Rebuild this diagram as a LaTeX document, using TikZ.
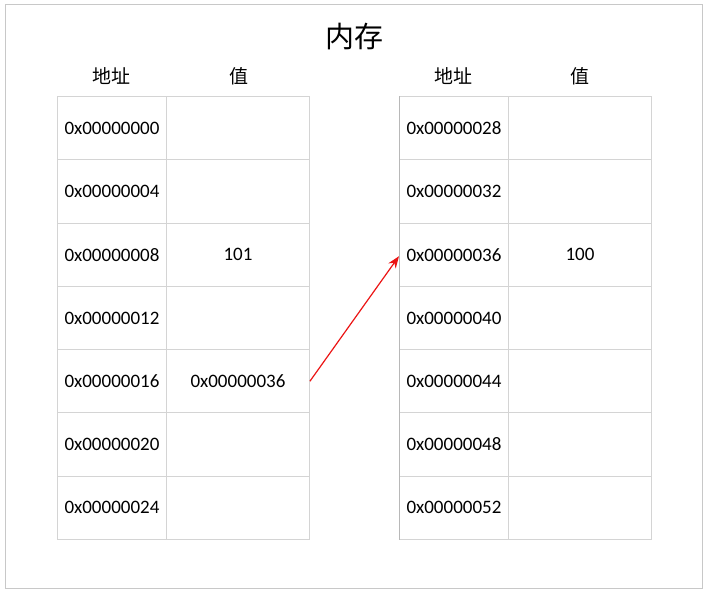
\documentclass[tikz,border=0pt]{standalone}
\usepackage{fontspec}
\setmainfont{Carlito}
\newfontfamily\cjk{Noto Sans CJK SC}
\usetikzlibrary{arrows.meta}
\definecolor{gridgray}{RGB}{212,212,212}
\definecolor{framegray}{RGB}{200,200,200}
\definecolor{arrowred}{RGB}{235,20,20}
\begin{document}
\begin{tikzpicture}[x=1pt,y=-1pt,
  cell/.style={draw=gridgray, line width=0.9pt, minimum height=63.29pt, inner sep=0pt,
    anchor=north west, font=\fontsize{19}{22}\selectfont, text=black},
  addr/.style={cell, minimum width=109pt},
  val/.style={cell, minimum width=143pt},
  head/.style={font=\cjk\fontsize{19}{22}\selectfont, text=black},
  ptr/.style={draw=arrowred, line width=1.2pt, -{Stealth[length=12pt,width=9pt]}}]
\useasboundingbox (0,0) rectangle (707,594);
\draw[framegray, line width=1pt] (5,4.5) rectangle (702,588.5);
\node[font=\cjk\fontsize{29}{32}\selectfont] (title) at (354,37) {内存};
\node[head] (lha) at (111.5,76) {地址};
\node[head] (lhv) at (239,76) {值};
\node[head] (rha) at (453.5,76) {地址};
\node[head] (rhv) at (579.5,76) {值};
% left table
\foreach \i/\a/\v in {1/0x00000000/{},2/0x00000004/{},3/0x00000008/101,4/0x00000012/{},5/0x00000016/0x00000036,6/0x00000020/{},7/0x00000024/{}}{
  \node[addr] (La\i) at (57,{96+(\i-1)*63.29}) {\a};
  \node[val] (Lv\i) at (166,{96+(\i-1)*63.29}) {\v};
}
% right table
\foreach \i/\a/\v in {1/0x00000028/{},2/0x00000032/{},3/0x00000036/100,4/0x00000040/{},5/0x00000044/{},6/0x00000048/{},7/0x00000052/{}}{
  \node[addr] (Ra\i) at (399,{96+(\i-1)*63.29}) {\a};
  \node[val] (Rv\i) at (508,{96+(\i-1)*63.29}) {\v};
}
\draw[black!28, line width=0.9pt] (Ra1.north west) -- (Ra7.south west);
\draw[ptr] (Lv5.east) -- ([yshift=-1.5pt]Ra3.west);
\end{tikzpicture}
\end{document}
